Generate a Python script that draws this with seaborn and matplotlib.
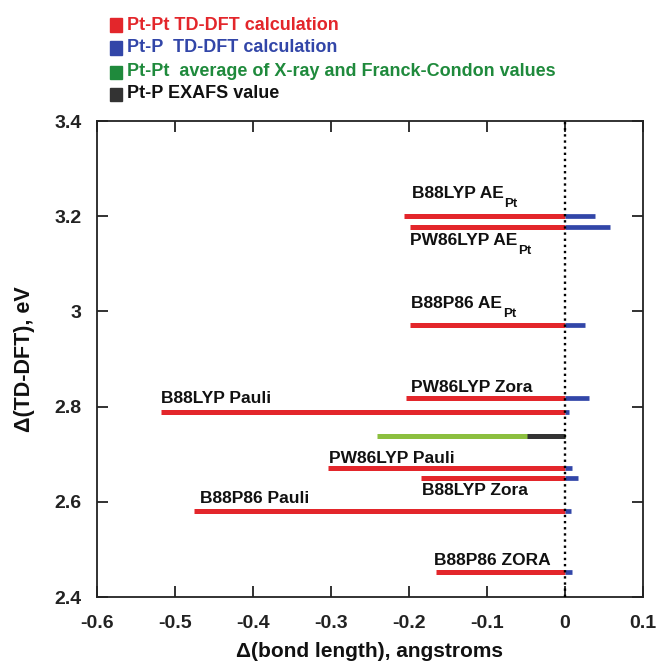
import matplotlib
matplotlib.use("Agg")
import matplotlib.pyplot as plt
import matplotlib.patches as mpatches
import seaborn as sns
import numpy as np

# ---- data ----
methods = ["B88LYP AE", "PW86LYP AE", "B88P86 AE",
           "PW86LYP Zora", "B88LYP Pauli", "PW86LYP Pauli", "B88LYP Zora",
           "B88P86 Pauli", "B88P86 ZORA"]
method_subs = ["Pt", "Pt", "Pt", "", "", "", "", "", ""]
energies = [3.200, 3.178, 2.971, 2.819, 2.789, 2.670, 2.651, 2.580, 2.453]
ptpt_dft = [-0.207, -0.199, -0.199, -0.204, -0.518, -0.304, -0.185, -0.476, -0.165]
ptp_dft = [0.039, 0.058, 0.026, 0.031, 0.0055, 0.009, 0.017, 0.008, 0.009]
expt_energy = [2.738]
ptpt_expt = [-0.2415]
ptp_expt = [-0.0488]

legend_labels = ["Pt-Pt TD-DFT calculation", "Pt-P  TD-DFT calculation",
                 "Pt-Pt  average of X-ray and Franck-Condon values", "Pt-P EXAFS value"]
xticks = [-0.6, -0.5, -0.4, -0.3, -0.2, -0.1, 0, 0.1]
xticklabels = ["-0.6", "-0.5", "-0.4", "-0.3", "-0.2", "-0.1", "0", "0.1"]
yticks = [2.4, 2.6, 2.8, 3.0, 3.2, 3.4]
yticklabels = ["2.4", "2.6", "2.8", "3", "3.2", "3.4"]

# label offsets in pixels (dx, dy of text baseline relative to bar start)
label_offsets = [(8, 18), (0, -18), (1, 17), (5, 6), (0, 9), (1, 5), (1, -17), (6, 8), (-2, 7)]

sns.set_theme(style="ticks")
plt.rcParams['font.family'] = ['Liberation Sans', 'DejaVu Sans']
plt.rcParams['font.weight'] = 'bold'

RED = "#e3262b"
BLUE = "#3246a8"
GREEN_BAR = "#8cbf3f"
GREEN_TXT = "#1f8a3c"
DARK = "#333333"

fig = plt.figure(figsize=(6.57, 6.67), dpi=100)
ax = fig.add_axes([97/657, 1-597/667, (643-97)/657, (597-121)/667])

zeros = np.zeros(len(energies))
ax.hlines(energies, ptpt_dft, zeros, color=RED, lw=3.6, zorder=2)
ax.hlines(energies, zeros, ptp_dft, color=BLUE, lw=3.4, zorder=2)
ax.hlines(expt_energy, ptpt_expt, [0], color=GREEN_BAR, lw=3.6, zorder=2)
ax.hlines(expt_energy, ptp_expt, [0], color=DARK, lw=3.6, zorder=3)
ax.axvline(0, color="black", lw=1.7, ls=(0, (1, 1.6)), zorder=4)

ax.set_xlim(-0.6, 0.1)
ax.set_ylim(2.4, 3.4)
ax.set_xticks(xticks)
ax.set_xticklabels(xticklabels)
ax.set_yticks(yticks)
ax.set_yticklabels(yticklabels)
ax.tick_params(direction="in", length=8, width=1.3, top=True, right=True,
               labelsize=14, colors="#222222")
ax.tick_params(axis="x", pad=13)
ax.tick_params(axis="y", pad=11)
for lab in ax.get_xticklabels() + ax.get_yticklabels():
    lab.set_fontweight("bold")
for s in ax.spines.values():
    s.set_linewidth(1.3)
    s.set_color("#222222")

ax.set_xlabel("Δ(bond length), angstroms", fontsize=15, fontweight="bold", labelpad=7, color="#111111")
ax.set_ylabel("Δ(TD-DFT), eV", fontsize=15.5, fontweight="bold", labelpad=14, color="#111111")

texts = []
for m, e, x0, (dx, dy) in zip(methods, energies, ptpt_dft, label_offsets):
    t = ax.annotate(m, (x0, e), xytext=(dx*0.72, dy*0.72), textcoords="offset points",
                    ha="left", va="baseline", fontsize=12.5, fontweight="bold", color="#111111")
    texts.append(t)

fig.canvas.draw()
renderer = fig.canvas.get_renderer()
for t, sub in zip(texts, method_subs):
    if not sub:
        continue
    bb = t.get_window_extent(renderer)
    xdisp = bb.x1 + 1
    ox, oy = t.xy
    base = ax.transData.transform((ox, oy))
    ydisp = base[1] + t.xyann[1] / 0.72 - 9
    x_f, y_f = fig.transFigure.inverted().transform((xdisp, ydisp))
    fig.text(x_f, y_f, sub, fontsize=9.5, fontweight="bold", color="#111111",
             ha="left", va="baseline")

# legend (colored entries above the axes)
leg_colors_sq = [RED, BLUE, GREEN_TXT, DARK]
leg_colors_txt = [RED, BLUE, GREEN_TXT, "#111111"]
leg_y = [25, 48, 72, 94]
for lab, cs, ct, y in zip(legend_labels, leg_colors_sq, leg_colors_txt, leg_y):
    fig.patches.append(mpatches.Rectangle((110/657, 1-(y+6.5)/667), 12/657, 13/667,
                                          transform=fig.transFigure, color=cs, figure=fig))
    fig.text(127/657, 1-y/667, lab, color=ct, fontsize=13, va="center", ha="left",
             fontweight="bold")

fig.savefig("out.png", dpi=100)
